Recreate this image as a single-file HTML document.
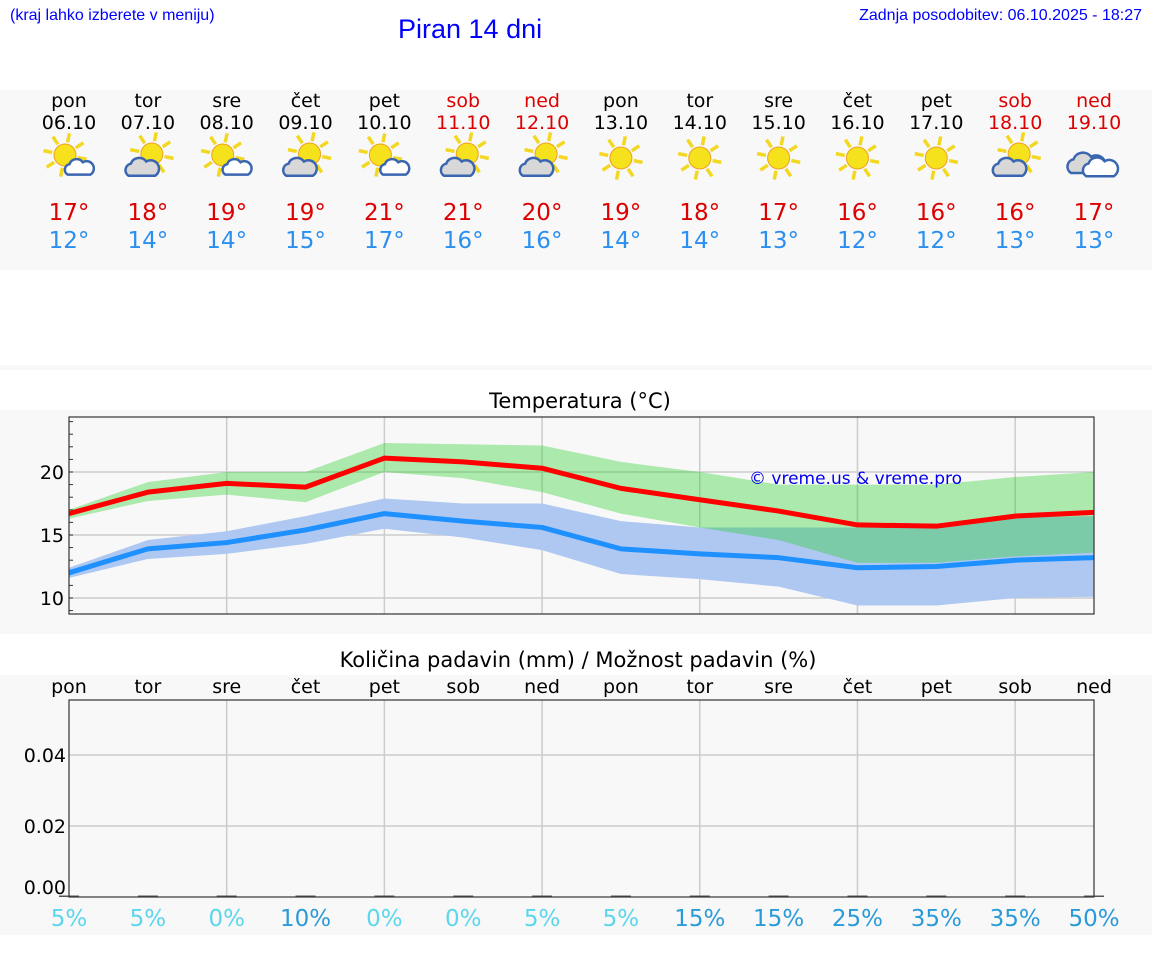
<!DOCTYPE html>
<html><head><meta charset="utf-8">
<style>
body{margin:0;width:1152px;height:975px;background:#fff;font-family:"DejaVu Sans","Liberation Sans",sans-serif;position:relative;overflow:hidden}
.abs{position:absolute}
</style></head>
<body>
<div class="abs" style="left:10px;top:7px;font-size:16px;color:#00f;font-family:'Liberation Sans',sans-serif">(kraj lahko izberete v meniju)</div>
<div class="abs" style="left:398px;top:14px;font-size:27px;color:#00f;font-family:'Liberation Sans',sans-serif">Piran 14 dni</div>
<div class="abs" style="right:10px;top:7px;font-size:16px;color:#00f;font-family:'Liberation Sans',sans-serif">Zadnja posodobitev: 06.10.2025 - 18:27</div>
<svg id="main" width="1152" height="975" class="abs" style="left:0;top:0"></svg>
<script>
const days=["pon","tor","sre","čet","pet","sob","ned","pon","tor","sre","čet","pet","sob","ned"];
const dates=["06.10","07.10","08.10","09.10","10.10","11.10","12.10","13.10","14.10","15.10","16.10","17.10","18.10","19.10"];
const icons=["pc","mc","pc","mc","pc","mc","mc","s","s","s","s","s","mc","c"];
const tmax=[17,18,19,19,21,21,20,19,18,17,16,16,16,17];
const tmin=[12,14,14,15,17,16,16,14,14,13,12,12,13,13];
const maxLine=[16.7,18.4,19.1,18.8,21.1,20.8,20.3,18.7,17.8,16.9,15.8,15.7,16.5,16.8];
const maxHi=[17.0,19.2,20.0,20.0,22.3,22.2,22.1,20.8,20.0,19.0,19.0,19.0,19.6,20.0];
const maxLo=[16.3,17.7,18.2,17.6,20.0,19.5,18.4,16.7,15.6,14.6,12.8,12.8,13.3,13.6];
const minLine=[12.0,13.9,14.4,15.4,16.7,16.1,15.6,13.9,13.5,13.2,12.4,12.5,13.0,13.2];
const minHi=[12.4,14.6,15.3,16.5,17.9,17.5,17.5,16.1,15.6,15.6,15.6,15.6,16.4,16.5];
const minLo=[11.6,13.1,13.5,14.3,15.5,14.8,13.8,11.9,11.5,10.9,9.4,9.4,10.0,10.1];
const precip=[0,0,0,0,0,0,0,0,0,0,0,0,0,0];
const chance=[5,5,0,10,0,0,5,5,15,15,25,35,35,50];
const tTicks=[10,15,20];
const pTicks=[0,0.02,0.04];

const NS="http://www.w3.org/2000/svg";
const svg=document.getElementById('main');
function el(tag,attrs,parent){const e=document.createElementNS(NS,tag);for(const k in attrs)e.setAttribute(k,attrs[k]);(parent||svg).appendChild(e);return e;}
function txt(s,x,y,size,fill,anchor,parent){const t=el('text',{x:x,y:y,'font-size':size,fill:fill,'text-anchor':anchor||'middle','font-family':'DejaVu Sans, Liberation Sans, sans-serif'},parent);t.textContent=s;return t;}
const X0=69,X1=1094;
const xs=i=>X0+i*(X1-X0)/(days.length-1);
const yT=v=>472-(v-20)*12.6;
const yP=v=>897-v*3550;

const p1=el('rect',{x:0,y:90,width:1152,height:180,fill:'#f8f8f8'});

el('rect',{x:0,y:365,width:1152,height:5,fill:'#f8f8f8'});
const p2=el('rect',{x:0,y:410,width:1152,height:224,fill:'#f8f8f8'});

const p3=el('rect',{x:0,y:675,width:1152,height:260,fill:'#f8f8f8'});


function sun(g,cx,cy,r){
  for(let k=0;k<8;k++){const a=k*Math.PI/4+0.2;
    el('line',{x1:cx+Math.cos(a)*(r+2),y1:cy+Math.sin(a)*(r+2),x2:cx+Math.cos(a)*(r+11),y2:cy+Math.sin(a)*(r+11),stroke:'#f2d820','stroke-width':3.5},g);}
  el('circle',{cx:cx,cy:cy,r:r,fill:'#f5e21d',stroke:'#f0a020','stroke-width':1},g);
}
function cloud(g,cx,cy,s,fill){
  el('path',{d:`M${cx-12*s},${cy+8*s} a${6*s},${6*s} 0 0 1 ${2*s},${-11*s} a${8*s},${8*s} 0 0 1 ${14*s},${-2*s} a${6*s},${6*s} 0 0 1 ${8*s},${13*s} z`,fill:fill,stroke:'#3a65b0','stroke-width':2.5},g);
}
for(let i=0;i<days.length;i++){
  const x=xs(i);const we=i==5||i==6||i==12||i==13;
  const d=txt(days[i],x,107,19,we?'#d00':'#000');
  
  const dt=txt(dates[i],x,129,19,we?'#d00':'#000');
  
  const g=el('g',{});
  
  const ic=icons[i];
  if(ic=='s'){sun(g,x,158,11);}
  else if(ic=='pc'){sun(g,x-4,155,11);cloud(g,x+10,167,0.95,'#fff');}
  else if(ic=='mc'){sun(g,x+4,154,11);cloud(g,x-6,167,1.1,'#d8d8d8');}
  else {cloud(g,x-8,163,1.25,'#d8d8d8');cloud(g,x+6,167,1.15,'#fff');}
  const mx=txt(tmax[i]+'°',x,220,23,'#d00');
  
  const mn=txt(tmin[i]+'°',x,248,23,'#2a8ff0');
  
}

const tt=txt('Temperatura (°C)',580,408,21,'#000');

el('rect',{x:X0,y:417,width:X1-X0,height:197,fill:'#f8f8f8'});
for(let i=2;i<days.length;i+=2)el('line',{x1:xs(i),x2:xs(i),y1:417,y2:614,stroke:'#ccc','stroke-width':1.5});
tTicks.forEach(v=>{el('line',{x1:X0,x2:X1,y1:yT(v),y2:yT(v),stroke:'#ccc','stroke-width':1.5});
  const l=txt(v,X0-5,yT(v)+7,19,'#000','end');});
for(let v=9;v<=24;v++)el('line',{x1:X0,x2:X0+4,y1:yT(v),y2:yT(v),stroke:'#333','stroke-width':1});
function band(hi,lo,fill,op,name){let d='';hi.forEach((v,i)=>d+=(i?'L':'M')+xs(i)+','+yT(v));
  for(let i=lo.length-1;i>=0;i--)d+='L'+xs(i)+','+yT(lo[i]);
  const p=el('path',{d:d+'Z',fill:fill,'fill-opacity':op});}
band(minHi,minLo,'#aec8f2',1,'min-temp-band');
band(maxHi,maxLo,'rgb(26,204,27)',0.34,'max-temp-band');
function line(vals,color,name){const p=el('polyline',{points:vals.map((v,i)=>xs(i)+','+yT(v)).join(' '),fill:'none',stroke:color,'stroke-width':5,'stroke-linejoin':'round'});
  }
line(minLine,'#1e90ff','min-temp-line');
line(maxLine,'#ff0000','max-temp-line');
el('rect',{x:X0,y:417,width:X1-X0,height:197,fill:'none',stroke:'#333','stroke-width':1.2});
const cp=txt('© vreme.us & vreme.pro',749,484,17,'#0000ee','start');


const pt=txt('Količina padavin (mm) / Možnost padavin (%)',578,667,21,'#000');

el('rect',{x:X0,y:700,width:X1-X0,height:197,fill:'#f8f8f8'});
for(let i=2;i<days.length;i+=2)el('line',{x1:xs(i),x2:xs(i),y1:700,y2:897,stroke:'#ccc','stroke-width':1.5});
pTicks.forEach(v=>{if(v>0)el('line',{x1:X0,x2:X1,y1:yP(v),y2:yP(v),stroke:'#ccc','stroke-width':1.5});
  const l=txt(v.toFixed(2),X0-3,yP(v)+(v>0?7:-3),19,'#000','end');});
for(let i=0;i<days.length;i++){
  const x=xs(i);
  const b=el('rect',{x:x-10,y:yP(precip[i])-1.5,width:20,height:Math.max(1.5,897-yP(precip[i])),fill:'#555'});
  
  const d=txt(days[i],x,693,19,'#000');
  const c=txt(chance[i]+'%',x,926,23,chance[i]>=10?'#2a9ad8':'#5cd6ec');
  
}
el('rect',{x:X0,y:700,width:X1-X0,height:197,fill:'none',stroke:'#333','stroke-width':1.2});
</script>
</body></html>
